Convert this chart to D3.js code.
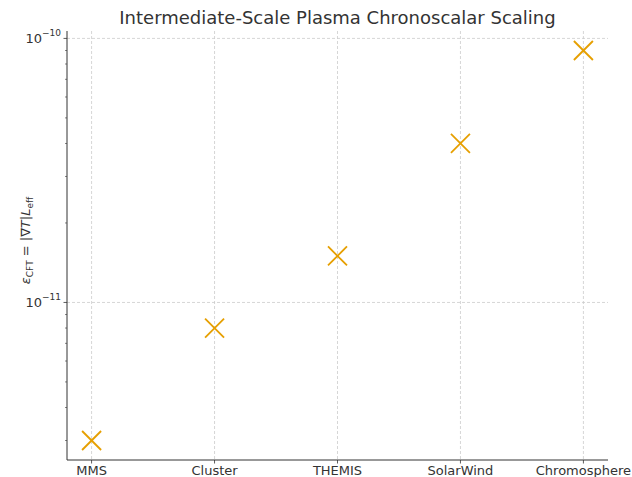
<!DOCTYPE html>
<html>
<head>
<meta charset="utf-8">
<script src="https://cdn.jsdelivr.net/npm/d3@7"></script>
<style>
  body { margin: 0; background: #fff; }
  text { font-family: "DejaVu Sans", sans-serif; fill: #333; }
</style>
</head>
<body>
<div id="chart"></div>
<script>
// data
var missions = ["MMS", "Cluster", "THEMIS", "SolarWind", "Chromosphere"];
var epsValues = [3.0e-12, 8.0e-12, 1.5e-11, 4.0e-11, 9.0e-11];
var yTicks = [1e-11, 1e-10];
var yTickExp = ["\u221211", "\u221210"];

var svgWidth = 632, svgHeight = 477;
var margin = { top: 31, right: 24, bottom: 17, left: 67 };
var width = svgWidth - margin.left - margin.right;
var height = svgHeight - margin.top - margin.bottom;

var svg = d3.select("#chart").append("svg")
    .attr("width", svgWidth)
    .attr("height", svgHeight);

var g = svg.append("g")
    .attr("transform", `translate(${margin.left},${margin.top})`);

// x: categorical positions with 5% padding like matplotlib
var x = d3.scaleLinear()
    .domain([-0.2, missions.length - 1 + 0.2])
    .range([0, width]);

// y: log scale padded 5% in log space
var lmin = Math.log10(d3.min(epsValues)), lmax = Math.log10(d3.max(epsValues));
var pad = (lmax - lmin) * 0.05;
var y = d3.scaleLog()
    .domain([Math.pow(10, lmin - pad), Math.pow(10, lmax + pad)])
    .range([height, 0]);

// grid
g.selectAll(".xgrid").data(missions).enter().append("line")
    .attr("x1", (d, i) => x(i)).attr("x2", (d, i) => x(i))
    .attr("y1", 0).attr("y2", height)
    .attr("stroke", "#ccc").attr("stroke-width", 0.8)
    .attr("stroke-dasharray", "3,2");

g.selectAll(".ygrid").data(yTicks).enter().append("line")
    .attr("x1", 0).attr("x2", width)
    .attr("y1", d => y(d)).attr("y2", d => y(d))
    .attr("stroke", "#ccc").attr("stroke-width", 0.8)
    .attr("stroke-dasharray", "3,2");

// minor ticks
var minor = [];
for (var e = -12; e <= -10; e++) {
  for (var m = 2; m <= 9; m++) {
    var v = m * Math.pow(10, e);
    if (v >= y.domain()[0] && v <= y.domain()[1]) minor.push(v);
  }
}
g.selectAll(".minor").data(minor).enter().append("line")
    .attr("x1", 0).attr("x2", -2)
    .attr("y1", d => y(d)).attr("y2", d => y(d))
    .attr("stroke", "#333").attr("stroke-width", 0.6);

// major y ticks
g.selectAll(".major").data(yTicks).enter().append("line")
    .attr("x1", 0).attr("x2", -3.5)
    .attr("y1", d => y(d)).attr("y2", d => y(d))
    .attr("stroke", "#333").attr("stroke-width", 0.8);

var yl = g.selectAll(".ylab").data(yTicks).enter().append("text")
    .attr("x", -6).attr("y", d => y(d) + 4.5)
    .attr("text-anchor", "end")
    .style("font-size", "13px");
yl.append("tspan").text("10");
yl.append("tspan").attr("dy", -6.5).style("font-size", "9px")
    .text((d, i) => yTickExp[i]);

// x ticks
g.selectAll(".xtick").data(missions).enter().append("line")
    .attr("x1", (d, i) => x(i)).attr("x2", (d, i) => x(i))
    .attr("y1", height).attr("y2", height + 3.5)
    .attr("stroke", "#333").attr("stroke-width", 0.8);

g.selectAll(".xlab").data(missions).enter().append("text")
    .attr("x", (d, i) => x(i)).attr("y", height + 15)
    .attr("text-anchor", "middle")
    .style("font-size", "13px")
    .text(d => d);

// spines
g.append("line").attr("x1", 0).attr("x2", 0).attr("y1", 0).attr("y2", height)
    .attr("stroke", "#333").attr("stroke-width", 1);
g.append("line").attr("x1", 0).attr("x2", width).attr("y1", height).attr("y2", height)
    .attr("stroke", "#333").attr("stroke-width", 1);

// markers
var s = 9.5;
var pts = g.selectAll(".pt").data(epsValues).enter().append("g")
    .attr("transform", (d, i) => `translate(${x(i)},${y(d)})`);
pts.append("line").attr("x1", -s).attr("y1", -s).attr("x2", s).attr("y2", s)
    .attr("stroke", "#E69F00").attr("stroke-width", 1.8);
pts.append("line").attr("x1", -s).attr("y1", s).attr("x2", s).attr("y2", -s)
    .attr("stroke", "#E69F00").attr("stroke-width", 1.8);

// title
svg.append("text")
    .attr("x", margin.left + width / 2).attr("y", 24)
    .attr("text-anchor", "middle")
    .style("font-size", "18px")
    .text("Intermediate-Scale Plasma Chronoscalar Scaling");

// y label
var ylab = svg.append("text")
    .attr("transform", `translate(30,${margin.top + height / 2 - 5}) rotate(-90)`)
    .attr("text-anchor", "middle")
    .style("font-size", "13px");
ylab.append("tspan").style("font-style", "italic").text("\u03b5");
ylab.append("tspan").attr("dy", 3).style("font-size", "9px").text("CFT");
ylab.append("tspan").attr("dy", -3).text(" = |\u2207");
ylab.append("tspan").style("font-style", "italic").text("T");
ylab.append("tspan").text("|");
ylab.append("tspan").style("font-style", "italic").text("L");
ylab.append("tspan").attr("dy", 3).style("font-size", "9px").text("eff");
</script>
</body>
</html>
